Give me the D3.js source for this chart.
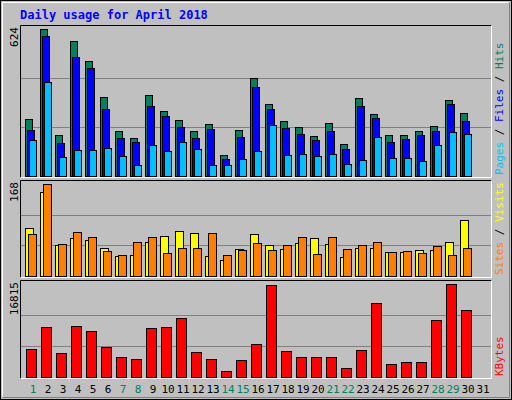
<!DOCTYPE html>
<html>
<head>
<meta charset="utf-8">
<script src="https://cdn.jsdelivr.net/npm/d3@7"></script>
<style>
  body { margin: 0; background: #fff; }
  text { font-family: "DejaVu Sans Mono", monospace; }
</style>
</head>
<body>
<div id="chart"></div>
<script>
const days = d3.range(1, 32);
const weekends = [1, 7, 8, 14, 15, 21, 22, 28, 29];

// top panel (day 31 has no data yet)
const hits  = [240, 624, 175, 573, 488, 336, 192, 162, 344, 277, 239, 192, 222, 90, 196, 416, 306, 234, 209, 171, 226, 137, 332, 264, 175, 175, 192, 213, 323, 268];
const files = [196, 594, 141, 505, 459, 285, 162, 145, 298, 256, 209, 162, 200, 73, 167, 378, 285, 205, 179, 154, 192, 116, 298, 247, 145, 158, 175, 192, 306, 234];
const pages = [154, 400, 82, 112, 112, 120, 86, 48, 133, 107, 145, 116, 48, 48, 73, 107, 217, 90, 95, 86, 95, 52, 69, 167, 78, 78, 65, 133, 188, 179];

// middle panel
const visits = [87, 153, 56, 69, 65, 51, 36, 38, 62, 73, 82, 78, 36, 29, 49, 76, 56, 49, 60, 69, 58, 35, 51, 51, 44, 44, 47, 47, 62, 102];
const sites  = [76, 168, 58, 80, 71, 45, 38, 62, 71, 42, 51, 51, 78, 38, 47, 60, 47, 56, 71, 40, 71, 49, 56, 62, 44, 45, 42, 55, 38, 51];

// bottom panel
const kbytes = [5051, 9117, 4312, 9302, 8378, 5421, 3573, 3203, 8932, 9117, 10595, 4497, 3203, 1170, 3018, 5975, 16693, 4682, 3573, 3573, 3573, 1540, 4866, 13367, 2279, 2649, 2649, 10226, 16815, 12074];

const W = 512, H = 400;
const svg = d3.select('#chart').append('svg').attr('width', W).attr('height', H);

// frame
svg.append('rect').attr('x', 0).attr('y', 0).attr('width', W).attr('height', H).attr('fill', '#c0c0c0');
svg.append('rect').attr('x', 0.5).attr('y', 0.5).attr('width', W - 1).attr('height', H - 1)
  .attr('fill', 'none').attr('stroke', '#000');
svg.append('path').attr('d', 'M2.5,396.5V2.5H508.5').attr('fill', 'none').attr('stroke', '#fff');
svg.append('path').attr('d', 'M2.5,397.5H509.5V2.5').attr('fill', 'none').attr('stroke', '#808080');

svg.append('text').attr('x', 20).attr('y', 19).attr('fill', '#0000ff')
  .attr('font-size', 12).attr('font-weight', 'bold').text('Daily usage for April 2018');

const x = d3.scaleLinear().domain([1, 31]).range([25, 475]);

const panels = [
  { top: 25, bottom: 177, max: 624, label: '624',
    series: [
      { data: hits, color: '#00805c', dx: 0, w: 7 },
      { data: files, color: '#0000ff', dx: 2, w: 7 },
      { data: pages, color: '#00c0ff', dx: 4, w: 7 }
    ],
    legend: [['Pages', '#00c0ff'], [' / ', '#000'], ['Files', '#0000ff'], [' / ', '#000'], ['Hits', '#00805c']] },
  { top: 180, bottom: 277, max: 168, label: '168',
    series: [
      { data: visits, color: '#ffff00', dx: 0, w: 8 },
      { data: sites, color: '#ff8000', dx: 3, w: 8 }
    ],
    legend: [['Sites', '#ff8000'], [' / ', '#000'], ['Visits', '#ffff00']] },
  { top: 280, bottom: 378, max: 16815, label: '16815',
    series: [
      { data: kbytes, color: '#ff0000', dx: 1, w: 10 }
    ],
    legend: [['KBytes', '#ff0000']] }
];

panels.forEach(p => {
  const base = p.bottom - 1;
  const y = d3.scaleLinear().domain([0, p.max]).range([base, p.top + 4]);
  const g = svg.append('g');

  // sunken border
  g.append('path').attr('d', `M20.5,${p.bottom + 0.5}V${p.top + 0.5}H491.5`).attr('fill', 'none').attr('stroke', '#000');
  g.append('path').attr('d', `M20.5,${p.bottom + 0.5}H491.5V${p.top + 0.5}`).attr('fill', 'none').attr('stroke', '#fff');

  // grid at thirds
  [p.max / 3, p.max * 2 / 3].forEach(v => {
    g.append('line').attr('x1', 21).attr('x2', 491)
      .attr('y1', Math.round(y(v)) + 0.5).attr('y2', Math.round(y(v)) + 0.5)
      .attr('stroke', '#808080');
  });

  p.series.forEach(s => {
    g.selectAll(null).data(s.data).enter().append('rect')
      .attr('x', (d, i) => x(i + 1) + s.dx + 0.5)
      .attr('y', d => Math.round(y(d)) + 0.5)
      .attr('width', s.w)
      .attr('height', d => base - Math.round(y(d)))
      .attr('fill', s.color).attr('stroke', '#000');
  });

  g.append('text').attr('transform', `translate(18,${p.top + 2}) rotate(-90)`)
    .attr('text-anchor', 'end').attr('font-size', 11).attr('fill', '#000').text(p.label);

  const t = g.append('text').attr('transform', `translate(503,${p.bottom - 2}) rotate(-90)`)
    .attr('font-size', 11);
  p.legend.forEach(([s, c]) => t.append('tspan').attr('fill', c).text(s));
});

svg.append('g').selectAll('text').data(days).enter().append('text')
  .attr('x', d => x(d) + 8).attr('y', 393)
  .attr('text-anchor', 'middle').attr('font-size', 11)
  .attr('fill', d => weekends.includes(d) ? '#00805c' : '#000')
  .text(d => d);
</script>
</body>
</html>
